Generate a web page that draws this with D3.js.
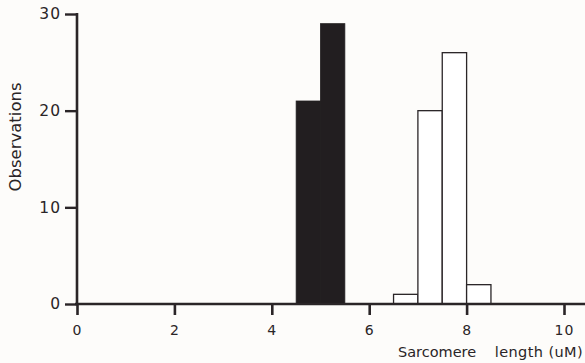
<!DOCTYPE html>
<html><head><meta charset="utf-8">
<script src="https://cdn.jsdelivr.net/npm/d3@7"></script>
<style>body{margin:0;background:#fdfcfa}svg{display:block}</style>
</head><body>
<svg id="c" width="585" height="363"></svg>
<script>
const binStarts = [4.5, 5.0, 6.5, 7.0, 7.5, 8.0];
const binWidth = 0.5;
const counts = [21, 29, 1, 20, 26, 2];
const groups = ["dark", "dark", "light", "light", "light", "light"];
const xTicks = [0, 2, 4, 6, 8, 10];
const yTicks = [0, 10, 20, 30];

const svg = d3.select("#c");
const ink = "#2a2527";
const x = d3.scaleLinear().domain([0, 10]).range([77, 564]);
const y = d3.scaleLinear().domain([0, 30]).range([304, 14]);
const font = "DejaVu Sans, Verdana, sans-serif";

const data = binStarts.map((s, i) => ({s, v: counts[i], g: groups[i]}));
svg.selectAll("rect.bar").data(data).join("rect")
  .attr("x", d => x(d.s)).attr("width", d => x(d.s + binWidth) - x(d.s))
  .attr("y", d => y(d.v)).attr("height", d => y(0) - y(d.v))
  .attr("fill", d => d.g === "dark" ? "#221e20" : "#ffffff")
  .attr("stroke", d => d.g === "dark" ? "#221e20" : ink)
  .attr("stroke-width", d => d.g === "dark" ? 0.8 : 1.3);

// x axis
const xa = svg.append("g").attr("transform", `translate(0,${y(0)})`)
  .call(d3.axisBottom(x).tickValues(xTicks).tickSize(11).tickPadding(10).tickFormat(d3.format("d")));
xa.select(".domain").remove();
xa.append("line").attr("x1", 75).attr("x2", 585).attr("stroke", ink).attr("stroke-width", 2.6);
xa.selectAll(".tick line").attr("stroke", ink).attr("stroke-width", 2.6);
xa.selectAll(".tick text").attr("fill", ink).attr("font-size", 14).attr("font-family", font)
  .attr("letter-spacing", 1);

// y axis
const ya = svg.append("g").attr("transform", `translate(${x(0)},0)`)
  .call(d3.axisLeft(y).tickValues(yTicks).tickSize(12).tickPadding(4).tickFormat(d3.format("d")));
ya.select(".domain").remove();
ya.append("line").attr("y1", y(30) - 1).attr("y2", y(0) + 1).attr("stroke", ink).attr("stroke-width", 2.6);
ya.selectAll(".tick line").attr("stroke", ink).attr("stroke-width", 2.4);
ya.selectAll(".tick text").attr("fill", ink).attr("font-size", 15.5).attr("font-family", font)
  .attr("letter-spacing", 1);

svg.append("text").attr("transform", "translate(21,137) rotate(-90)")
  .attr("text-anchor", "middle").attr("font-family", font).attr("font-size", 16.5)
  .attr("fill", ink).text("Observations");
svg.append("text").attr("x", 398).attr("y", 357)
  .attr("font-family", font).attr("font-size", 14.5).attr("fill", ink).text("Sarcomere");
svg.append("text").attr("x", 583).attr("y", 357).attr("text-anchor", "end")
  .attr("font-family", font).attr("font-size", 14.5).attr("fill", ink).attr("letter-spacing", 0.4)
  .text("length (uM)");
</script>
</body></html>
